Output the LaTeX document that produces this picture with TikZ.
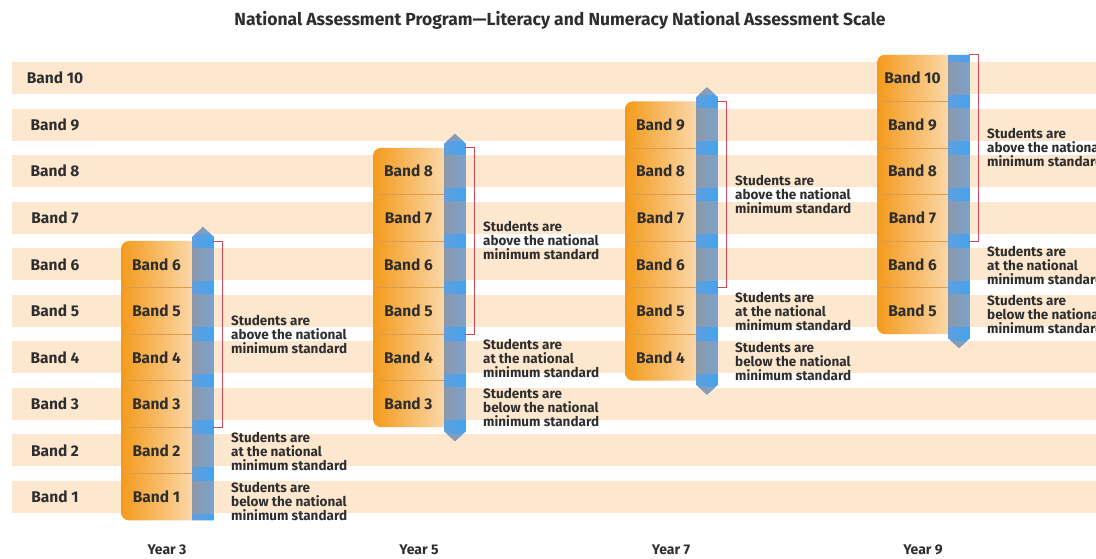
\documentclass[tikz,border=0pt]{standalone}
\usepackage{fontspec}
\setmainfont{Fira Sans}
\newcommand\fmed{\bfseries}
\usetikzlibrary{calc}
\definecolor{stripe}{HTML}{FDE8CF}
\definecolor{orangeL}{HTML}{F39A1B}
\definecolor{orangeM}{HTML}{F8B55A}
\definecolor{orangeR}{HTML}{FCE0BC}
\definecolor{barGrayL}{HTML}{8C98AA}
\definecolor{barGrayR}{HTML}{7BA2CC}
\definecolor{barBlueL}{HTML}{5F9FDD}
\definecolor{barBlueR}{HTML}{44A3EE}
\definecolor{brk}{HTML}{D2495A}
\definecolor{txt}{HTML}{2E2E2E}
\definecolor{sep}{HTML}{DF9A4C}
\tikzset{
  bandlbl/.style={inner sep=0pt, text=txt, font=\fmed\fontsize{15.5}{17}\selectfont},
  stud/.style={inner sep=0pt, anchor=west, align=left, text=txt, font=\fmed\fontsize{13.5}{14}\selectfont},
  yearlbl/.style={inner sep=0pt, text=txt, font=\fmed\fontsize{14}{16}\selectfont},
  titlelbl/.style={inner sep=0pt, text=txt, font=\fmed\fontsize{17.5}{20}\selectfont},
  bracketline/.style={draw=brk, line width=0.9pt},
  seprule/.style={draw=sep, line width=0.6pt}
}
\newcommand\yearcol[6]{%
  \pgfmathsetmacro\ytop{497-(#2-1)*46.55-23.3}%
  \pgfmathsetmacro\ybot{497-(#3-1)*46.55+23.3}%
  \pgfmathsetmacro\ybr{497-(#3+1)*46.55+23.3}%
  \pgfmathsetmacro\xa{#1+71}%
  \pgfmathsetmacro\xb{#1+93}%
  \pgfmathsetmacro\xm{#1+82}%
  \pgfmathsetmacro\yts{\ytop-4*#5}%
  \pgfmathsetmacro\ytt{\ytop-14*#5}%
  \pgfmathsetmacro\ybs{\ybot+4*#6}%
  \pgfmathsetmacro\ybt{\ybot+14*#6}%
  \pgfmathtruncatemacro\tm{#2-1}%
  \shade[left color=orangeL, middle color=orangeM, right color=orangeR, rounded corners=8pt]
    (#1,\ytop) rectangle (\xa+10,\ybot);
  \foreach \k in {#3,...,\tm}{%
    \pgfmathsetmacro\c{497-(\k-1)*46.55-23.3}%
    \draw[seprule] (#1,\c) -- (\xa,\c);}
  \foreach \k in {#3,...,#2}{%
    \pgfmathsetmacro\c{497-(\k-1)*46.55}%
    \node[bandlbl] (Y#4B\k) at (#1+35.5,\c) {Band \k};}
  \begin{scope}
    \clip (\xa,\ybs) -- (\xa,\yts) -- (\xm,\ytt) -- (\xb,\yts) -- (\xb,\ybs) -- (\xm,\ybt) -- cycle;
    \shade[left color=barBlueL, right color=barBlueR] (\xa,0) rectangle (\xb,558);
    \foreach \k in {1,...,10}{%
      \pgfmathsetmacro\c{497-(\k-1)*46.55}%
      \shade[left color=barGrayL, right color=barGrayR] (\xa,\c-16) rectangle (\xb,\c+16);}
  \end{scope}
  \draw[bracketline] (\xb-1,\ytop) -- (#1+101,\ytop) -- (#1+101,\ybr) -- (\xb-1,\ybr);
  \pgfmathsetmacro\yab{(\ytop+\ybr)/2}%
  \pgfmathsetmacro\yat{497-(#3)*46.55+1}%
  \pgfmathsetmacro\ybe{497-(#3-1)*46.55+4}%
  \node[stud] (A#4) at (#1+110,\yab) {Students are\\above the national\\minimum standard};
  \node[stud] (T#4) at (#1+110,\yat) {Students are\\at the national\\minimum standard};
  \node[stud] (W#4) at (#1+110,\ybe) {Students are\\below the national\\minimum standard};
  \node[yearlbl] (Y#4) at (#1+46,550) {Year #4};
}
\begin{document}
\begin{tikzpicture}[x=1pt,y=-1pt]
\useasboundingbox (0,0) rectangle (1096,558);
\clip (0,0) rectangle (1096,558);
\fill[white] (0,0) rectangle (1096,558);
\node[titlelbl] (title) at (560,20) {National Assessment Program—Literacy and Numeracy National Assessment Scale};
\foreach \k in {1,...,10}{%
  \pgfmathsetmacro\c{497-(\k-1)*46.55}%
  \fill[stripe] (12,\c-16) rectangle (1096,\c+16);
  \node[bandlbl] (L\k) at (55,\c) {Band \k};}
\yearcol{121}{6}{1}{3}{1}{0}
\yearcol{373}{8}{3}{5}{1}{1}
\yearcol{625}{9}{4}{7}{1}{1}
\yearcol{877}{10}{5}{9}{0}{1}
\end{tikzpicture}
\end{document}
